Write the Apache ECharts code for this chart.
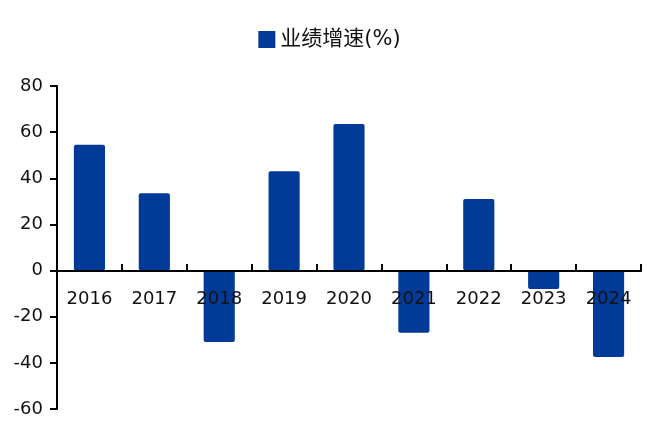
<!DOCTYPE html>
<html>
<head>
<meta charset="utf-8">
<script src="https://cdn.jsdelivr.net/npm/echarts@6/dist/echarts.min.js"></script>
<style>html,body{margin:0;padding:0;background:#fff;}#c{width:659px;height:423px;}</style>
</head>
<body>
<div id="c"></div>
<script>
var categories = ['2016','2017','2018','2019','2020','2021','2022','2023','2024'];
var growth = [54.5, 33.5, -31, 43, 63.5, -27, 31, -8, -37.5];
var seriesName = '业绩增速(%)';
var yTicks = {min: -60, max: 80, interval: 20};

var chart = echarts.init(document.getElementById('c'), null, {renderer: 'canvas'});
chart.setOption({
  animation: false,
  backgroundColor: '#ffffff',
  textStyle: {fontFamily: 'DejaVu Sans'},
  legend: {
    top: 24,
    left: 'center',
    icon: 'rect',
    itemWidth: 17,
    itemHeight: 17,
    itemGap: 7,
    textStyle: {fontSize: 21, color: '#111', fontFamily: 'DejaVu Sans, Noto Sans CJK SC'},
    data: [seriesName]
  },
  grid: {left: 57, right: 18, top: 86, bottom: 14, containLabel: false, outerBoundsMode: 'none'},
  xAxis: {
    type: 'category',
    data: categories,
    z: 5,
    position: 'bottom',
    offset: -138,
    axisLine: {onZero: false, lineStyle: {color: '#000', width: 2}},
    axisTick: {show: true, inside: true, length: 7, lineStyle: {color: '#000', width: 2}},
    axisLabel: {fontSize: 18, color: '#111', margin: 19, fontFamily: 'DejaVu Sans'},
    splitLine: {show: false}
  },
  yAxis: {
    type: 'value',
    min: yTicks.min, max: yTicks.max, interval: yTicks.interval,
    axisLine: {show: true, lineStyle: {color: '#000', width: 2}},
    axisTick: {show: true, length: 7, lineStyle: {color: '#000', width: 2}},
    axisLabel: {fontSize: 18, color: '#111', margin: 14, fontFamily: 'DejaVu Sans'},
    splitLine: {show: false}
  },
  series: [{
    name: seriesName,
    type: 'bar',
    data: growth,
    barWidth: '48%',
    itemStyle: {color: '#023B97', borderRadius: 2}
  }]
});
</script>
</body>
</html>
